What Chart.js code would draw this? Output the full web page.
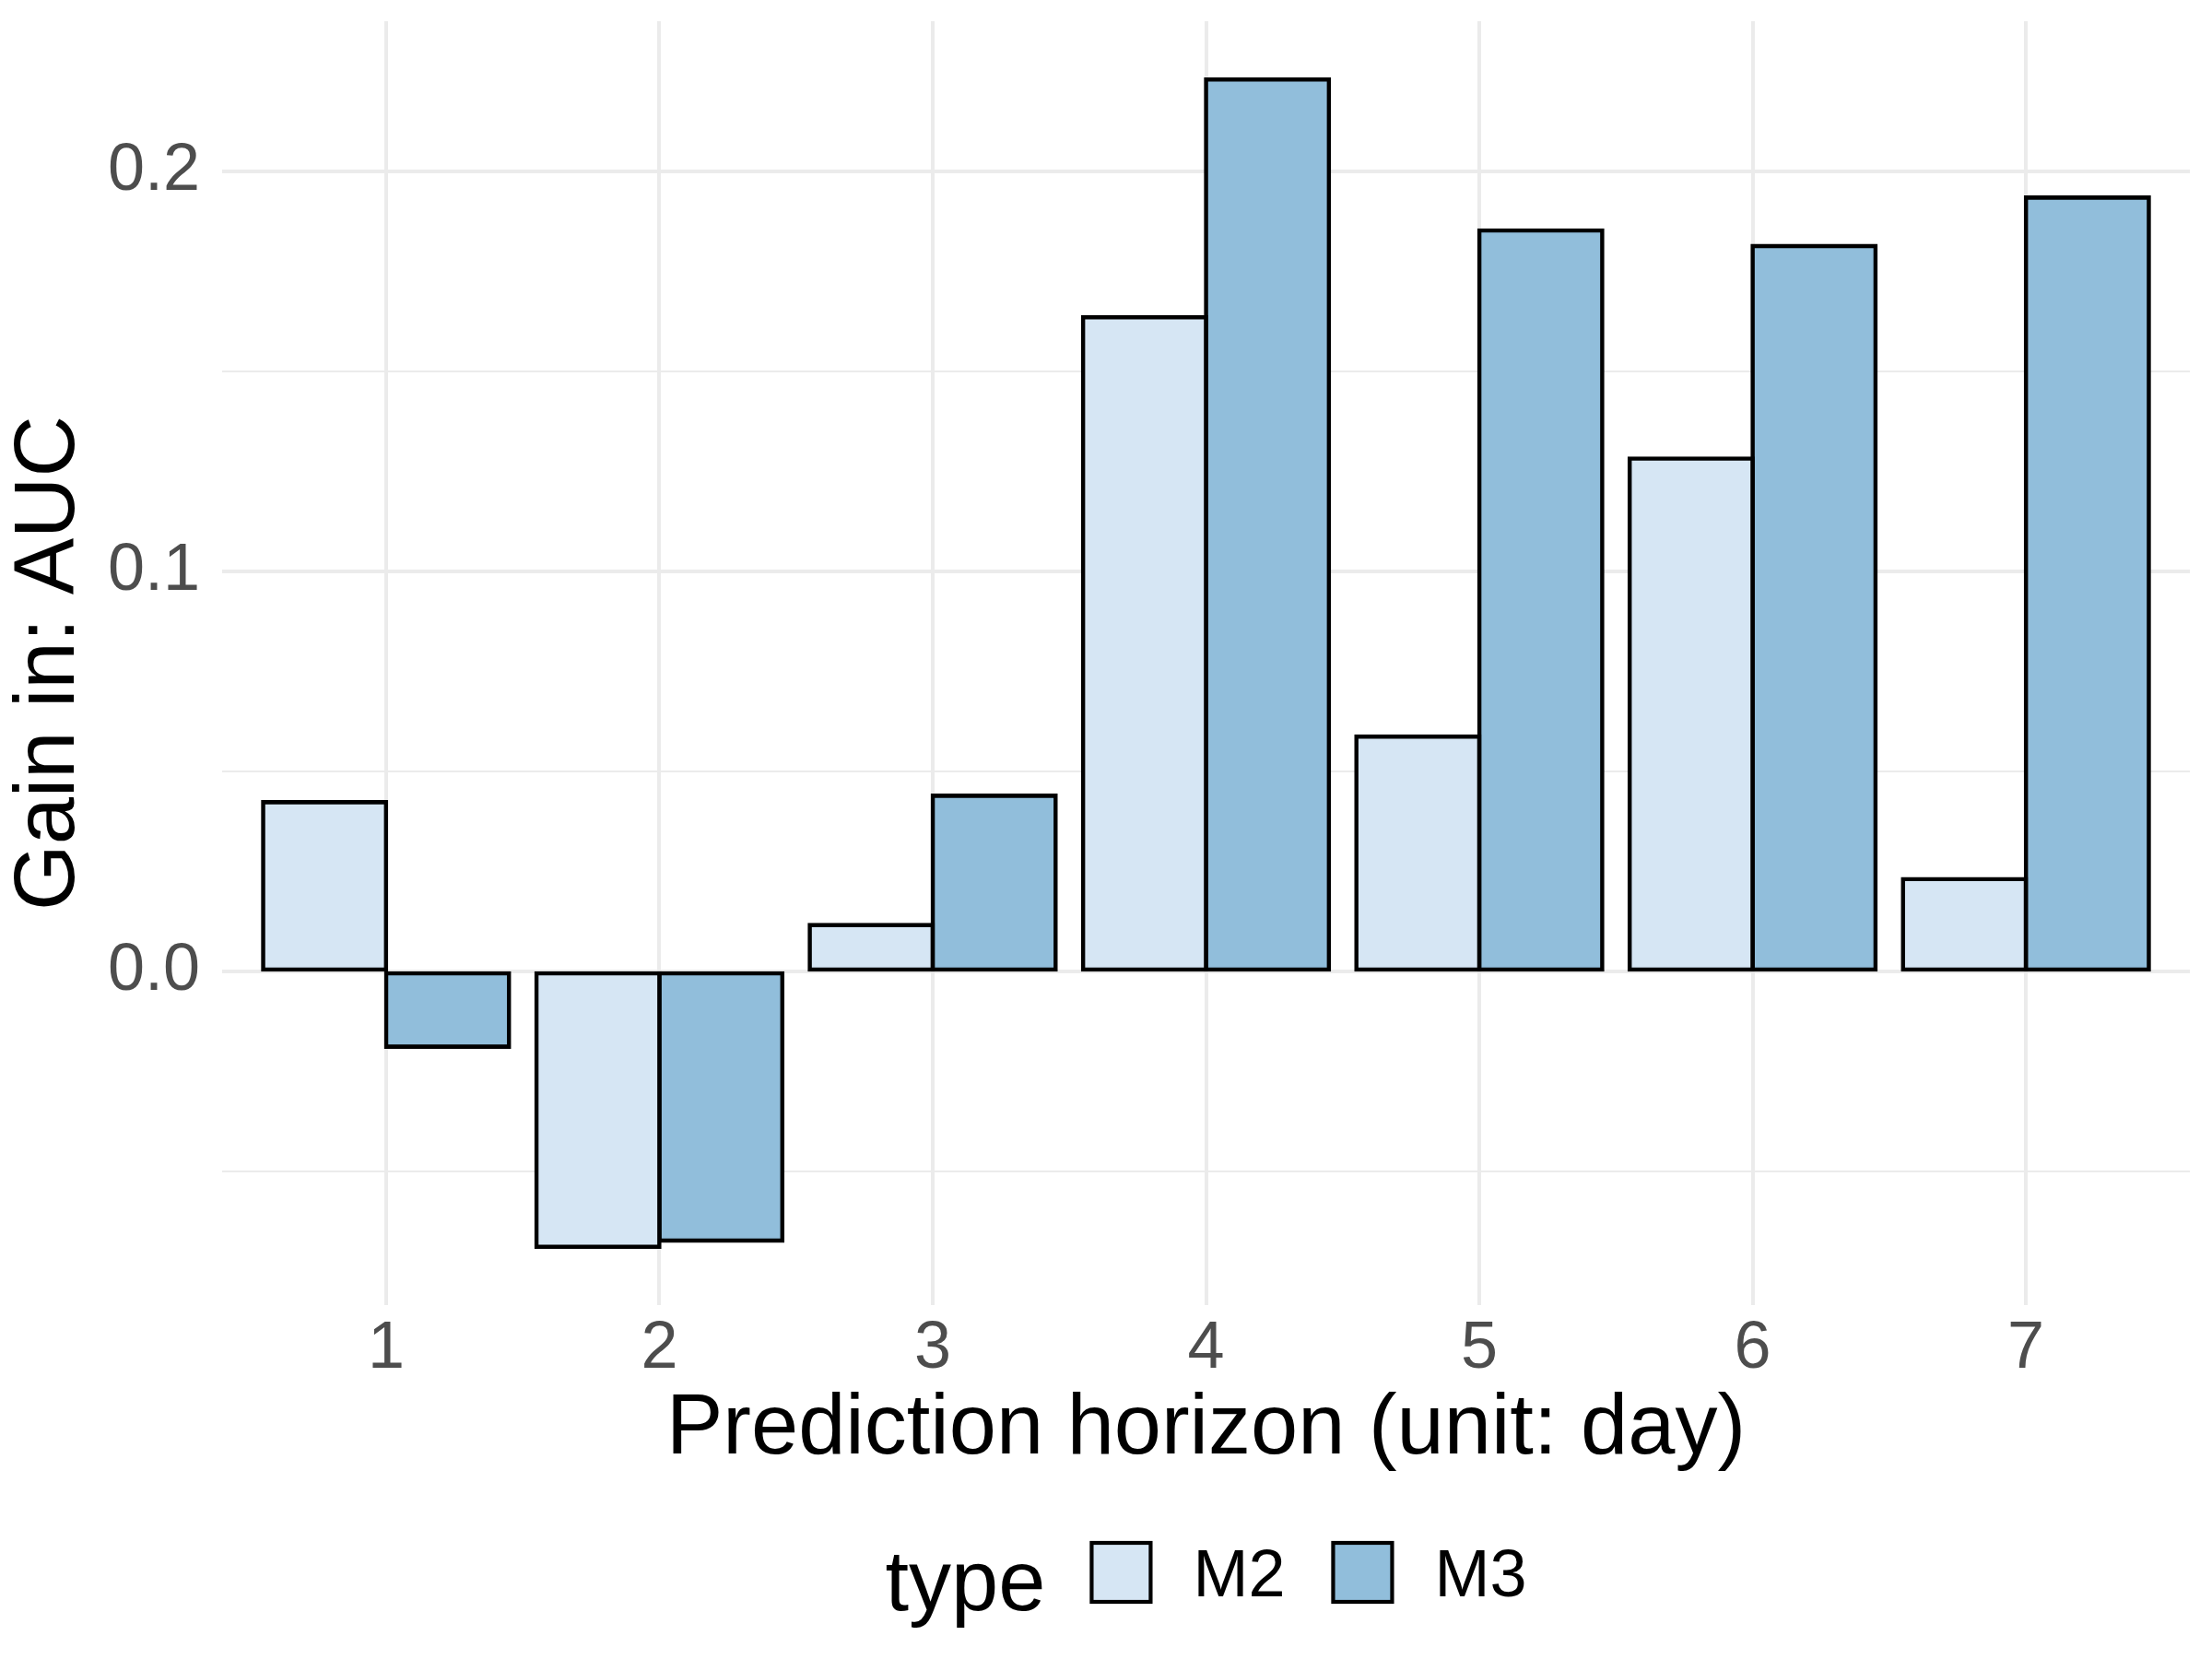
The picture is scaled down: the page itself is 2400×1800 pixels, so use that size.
<!DOCTYPE html>
<html>
<head>
<meta charset="utf-8">
<script src="https://cdn.jsdelivr.net/npm/chart.js@4/dist/chart.umd.min.js"></script>
<style>
html, body { margin: 0; padding: 0; background: #ffffff; }
#wrap { width: 2400px; height: 1800px; position: relative; }
</style>
</head>
<body>
<div id="wrap"><canvas id="c" width="2400" height="1800"></canvas></div>
<script>
// ---- data ----
const categories = ['1', '2', '3', '4', '5', '6', '7'];
const seriesNames = ['M2', 'M3'];
const m2Values = [0.0423, -0.0688, 0.0116, 0.1635, 0.0587, 0.1282, 0.0231];
const m3Values = [-0.0188, -0.0673, 0.0439, 0.2229, 0.1852, 0.1813, 0.1934];
const yMajorTicks = [0.0, 0.1, 0.2];
const yMinorTicks = [-0.05, 0.05, 0.15];
const xTitle = 'Prediction horizon (unit: day)';
const yTitle = 'Gain in: AUC';
const legendTitle = 'type';
const seriesColors = ['#D6E6F4', '#91BEDB'];

// ---- derived ----
const FONT = '"Liberation Sans", Arial, Helvetica, sans-serif';
const allVals = m2Values.concat(m3Values);
const dMin = Math.min(...allVals), dMax = Math.max(...allVals);
const pad = (dMax - dMin) * 0.05;
const yMin = dMin - pad, yMax = dMax + pad;
const xMin = 1 - 0.6, xMax = categories.length + 0.6;
const isMajor = v => yMajorTicks.some(m => Math.abs(m - v) < 1e-9);

function toPoints(vals) { return vals.map((v, i) => ({ x: i + 1, y: v })); }

const legendPlugin = {
  id: 'ggLegend',
  afterDraw(chart) {
    const ctx = chart.ctx;
    const area = chart.chartArea;
    ctx.save();
    ctx.font = '92px ' + FONT;
    const tW = ctx.measureText(legendTitle).width;
    ctx.font = '72px ' + FONT;
    const lW = seriesNames.map(n => ctx.measureText(n).width);
    const box = 64, gapTitle = 50, gapBox = 46, gapItem = 52;
    let total = tW + gapTitle;
    lW.forEach((w, i) => { total += box + gapBox + w + (i < lW.length - 1 ? gapItem : 0); });
    let x = (area.left + area.right) / 2 - total / 2;
    const cy = 1706;
    ctx.fillStyle = '#000000';
    ctx.textBaseline = 'alphabetic';
    ctx.textAlign = 'left';
    ctx.font = '92px ' + FONT;
    ctx.fillText(legendTitle, x, cy + 41);
    x += tW + gapTitle;
    seriesNames.forEach((n, i) => {
      ctx.fillStyle = seriesColors[i];
      ctx.fillRect(x, cy - box / 2, box, box);
      ctx.lineWidth = 4.2;
      ctx.strokeStyle = '#000000';
      ctx.strokeRect(x, cy - box / 2, box, box);
      x += box + gapBox;
      ctx.fillStyle = '#000000';
      ctx.font = '72px ' + FONT;
      ctx.fillText(n, x, cy + 26);
      x += lW[i] + gapItem;
    });
    ctx.restore();
  }
};

Chart.defaults.font.family = FONT;

function noPad(s) { s.paddingTop = 0; s.paddingBottom = 0; s.paddingLeft = 0; s.paddingRight = 0; }

new Chart(document.getElementById('c'), {
  type: 'bar',
  data: {
    datasets: [
      { label: seriesNames[0], data: toPoints(m2Values), backgroundColor: seriesColors[0] },
      { label: seriesNames[1], data: toPoints(m3Values), backgroundColor: seriesColors[1] }
    ]
  },
  options: {
    responsive: false,
    devicePixelRatio: 1,
    animation: false,
    layout: { padding: { left: 0, right: 24, top: 23, bottom: 200 } },
    datasets: {
      bar: {
        categoryPercentage: 0.9,
        barPercentage: 1.0,
        borderColor: '#000000',
        borderWidth: 4.6,
        borderSkipped: false,
        inflateAmount: 2.3
      }
    },
    plugins: {
      legend: { display: false },
      tooltip: { enabled: false }
    },
    scales: {
      x: {
        type: 'linear',
        min: xMin,
        max: xMax,
        offset: false,
        afterBuildTicks: s => { s.ticks = categories.map((c, i) => ({ value: i + 1 })); },
        afterFit: s => { s.height = 184; noPad(s); },
        grid: { offset: false, color: '#EBEBEB', lineWidth: 4, drawTicks: false },
        border: { display: false },
        ticks: {
          font: { size: 72 },
          color: '#4D4D4D',
          padding: 5,
          maxRotation: 0,
          autoSkip: false,
          callback: (v) => categories[Math.round(v) - 1]
        },
        title: {
          display: true,
          text: xTitle,
          color: '#000000',
          font: { size: 92, lineHeight: 1 },
          padding: { top: 0, bottom: 2 }
        }
      },
      y: {
        type: 'linear',
        min: yMin,
        max: yMax,
        afterBuildTicks: s => {
          s.ticks = yMinorTicks.concat(yMajorTicks).sort((a, b) => a - b).map(v => ({ value: v }));
        },
        afterFit: s => { s.width = 241; noPad(s); },
        grid: {
          color: '#EBEBEB',
          lineWidth: c => (c.tick && isMajor(c.tick.value)) ? 4 : 2,
          drawTicks: false
        },
        border: { display: false },
        ticks: {
          font: { size: 72 },
          color: '#4D4D4D',
          padding: 24,
          autoSkip: false,
          callback: (v) => isMajor(v) ? v.toFixed(1) : ''
        },
        title: {
          display: true,
          text: yTitle,
          color: '#000000',
          font: { size: 92, lineHeight: 1 },
          padding: { top: 9, bottom: 0 }
        }
      }
    }
  },
  plugins: [legendPlugin]
});
</script>
</body>
</html>
